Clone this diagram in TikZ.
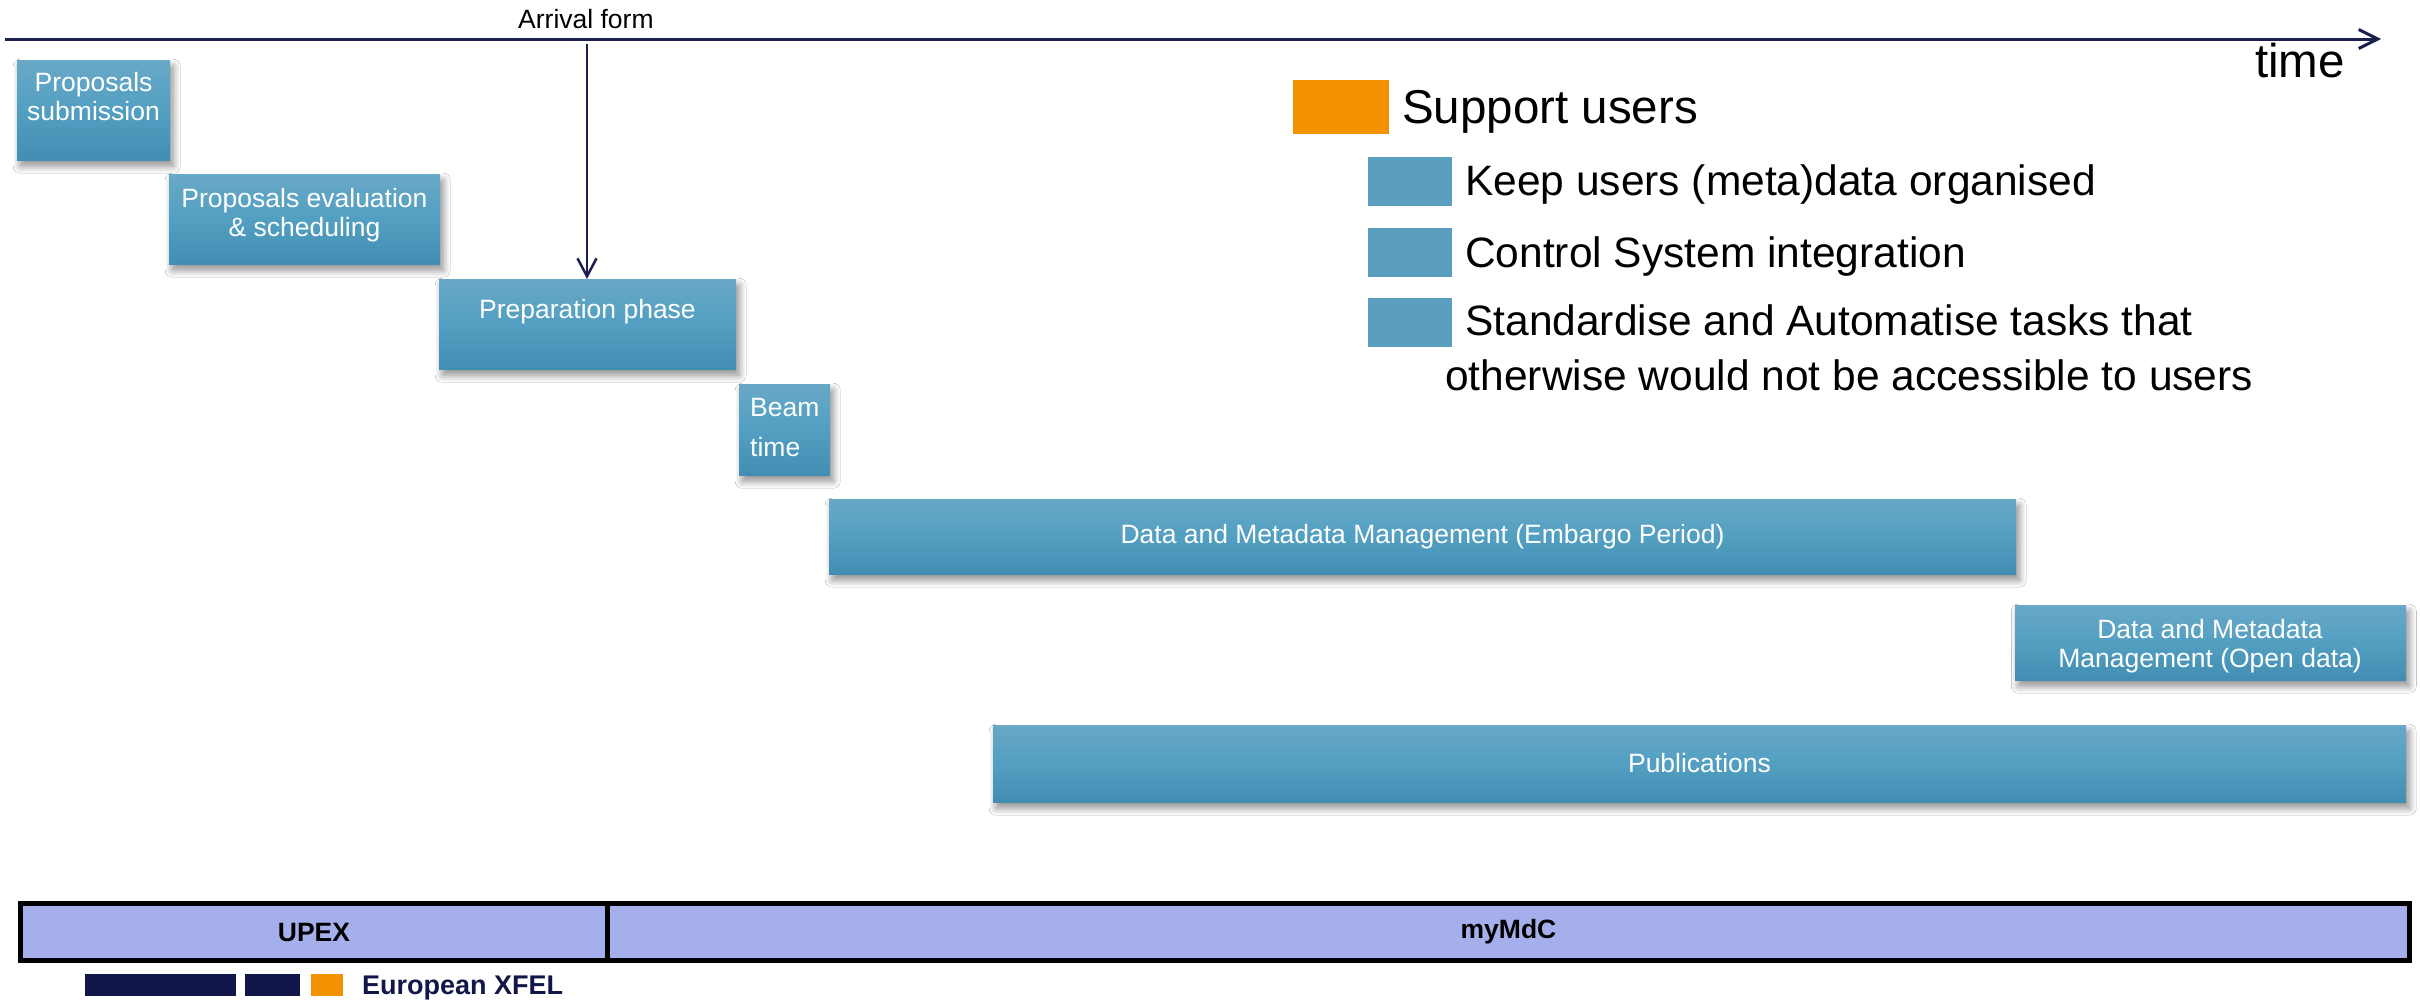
\documentclass[tikz,border=0pt]{standalone}
\usepackage{fontspec}
\setmainfont{Liberation Sans}
\usetikzlibrary{arrows.meta,shadows.blur}
\definecolor{navy}{HTML}{1B1F4E}
\definecolor{logonavy}{HTML}{111849}
\definecolor{xorange}{HTML}{F39200}
\definecolor{boxtop}{HTML}{69A8C6}
\definecolor{boxmid}{HTML}{529FC2}
\definecolor{boxbot}{HTML}{428EB2}
\definecolor{legblue}{HTML}{5A9EBE}
\definecolor{barfill}{HTML}{A4AFEC}
\tikzset{
  tbox/.style={rectangle, inner sep=0pt, anchor=north west,
    top color=boxtop, bottom color=boxbot, middle color=boxmid,
    blur shadow={shadow xshift=3pt, shadow yshift=-6pt, shadow blur radius=7pt, shadow blur steps=12, shadow opacity=45}},
  btext/.style={text=white, inner sep=0pt, align=center, font=\fontsize{26.5}{29}\selectfont},
  small/.style={inner sep=0pt, font=\fontsize{26.5}{30}\selectfont},
  legsq/.style={rectangle, inner sep=0pt, anchor=north west, draw=none},
  legtext/.style={inner sep=0pt, anchor=base west, font=\fontsize{42.5}{50}\selectfont},
  barbox/.style={rectangle, inner sep=0pt, anchor=north west, draw=black, line width=5pt, fill=barfill, font=\bfseries\fontsize{26.5}{30}\selectfont},
  axis/.style={draw=navy, line width=3pt, -{Straight Barb[length=19pt,width=19pt,line width=3pt]}},
  varrow/.style={draw=navy, line width=2.5pt, -{Straight Barb[length=18pt,width=19pt,line width=2.5pt]}}
}
\begin{document}
\begin{tikzpicture}[x=1pt,y=-1pt]
\useasboundingbox[fill=white] (0,0) rectangle (2420,999);

% time axis
\coordinate (axstart) at (5,39);
\coordinate (axend) at (2381,39);
\draw[axis] (axstart) -- (axend);
\node[inner sep=0pt, anchor=base west, font=\fontsize{47.5}{52}\selectfont] (time) at (2255,77) {time};

% boxes
\node[tbox, minimum width=153pt, minimum height=100pt] (ps) at (17,60) {};
\node[btext] (pst) at (93.5,97) {Proposals\\submission};

\node[tbox, minimum width=271pt, minimum height=90pt] (pe) at (169,174) {};
\node[btext] (pet) at (304.5,215) {Proposals evaluation\\\& scheduling};

\node[tbox, minimum width=297pt, minimum height=90pt] (pp) at (439,279) {};
\node[btext] (ppt) at (587.5,312) {Preparation phase};

\node[tbox, minimum width=91pt, minimum height=91pt] (bt) at (739,384) {};
\node[btext, align=left, anchor=west, font=\fontsize{26.5}{40}\selectfont] (btt) at (750,428) {Beam\\time};

\node[tbox, minimum width=1187pt, minimum height=75pt] (emb) at (829,499) {};
\node[btext] (embt) at (1422.5,536.5) {Data and Metadata Management (Embargo Period)};

\node[tbox, minimum width=391pt, minimum height=75pt] (od) at (2015,605) {};
\node[btext, font=\fontsize{26.5}{29.5}\selectfont] (odt) at (2210,646) {Data and Metadata\\Management (Open data)};

\node[tbox, minimum width=1413pt, minimum height=77pt] (pub) at (993,725) {};
\node[btext] (pubt) at (1699.5,763.5) {Publications};

% arrival form arrow
\node[small, anchor=base west] (arr) at (518,28.3) {Arrival form};
\coordinate (arrtop) at (587,44);
\draw[varrow] (arrtop) -- (pp.north -| arrtop);

% legend
\node[legsq, fill=xorange, minimum width=96pt, minimum height=54pt] (sqo) at (1293,80) {};
\node[inner sep=0pt, anchor=base west, font=\fontsize{47.5}{52}\selectfont] (sup) at (1402,123) {Support users};
\node[legsq, fill=legblue, minimum width=84pt, minimum height=49pt] (sq1) at (1368,157) {};
\node[legtext] (l1) at (1465,195) {Keep users (meta)data organised};
\node[legsq, fill=legblue, minimum width=84pt, minimum height=49pt] (sq2) at (1368,228) {};
\node[legtext] (l2) at (1465,267) {Control System integration};
\node[legsq, fill=legblue, minimum width=84pt, minimum height=49pt] (sq3) at (1368,298) {};
\node[legtext] (l3) at (1465,335) {Standardise and Automatise tasks that};
\node[legtext] (l3b) at (1445,390) {otherwise would not be accessible to users};

% bottom bar
\node[barbox, minimum width=587pt, minimum height=57pt] (upex) at (18,901) {UPEX};
\node[barbox, minimum width=1802pt, minimum height=57pt] (mymdc) at (605,901) {myMdC};

% logo
\node[legsq, fill=logonavy, minimum width=151pt, minimum height=22pt] (lg1) at (85,974) {};
\node[legsq, fill=logonavy, minimum width=55pt, minimum height=22pt] (lg2) at (245,974) {};
\node[legsq, fill=xorange, minimum width=32pt, minimum height=22pt] (lg3) at (311,974) {};
\node[inner sep=0pt, anchor=base west, text=logonavy, font=\bfseries\fontsize{27}{30}\selectfont] (lgt) at (362,994.5) {European XFEL};
\end{tikzpicture}
\end{document}
